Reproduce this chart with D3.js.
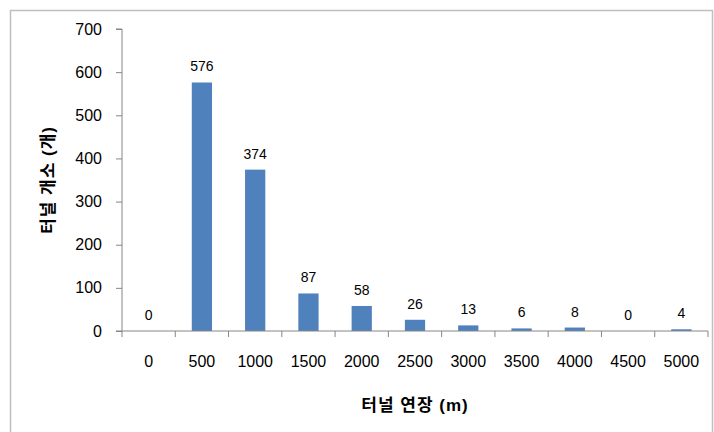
<!DOCTYPE html>
<html>
<head>
<meta charset="utf-8">
<script src="https://cdn.jsdelivr.net/npm/d3@7"></script>
<style>
  body { margin: 0; background: #fff; }
  text { font-family: "Liberation Sans", "Noto Sans CJK KR", sans-serif; fill: #000; }
</style>
</head>
<body>
<svg width="714" height="432"></svg>
<script>
const BAR_BLUE = "#4F81BD";
const AXIS_GRAY = "#868686";

// 터널 연장 구간 (m)
const lengths = ["0", "500", "1000", "1500", "2000", "2500", "3000", "3500", "4000", "4500", "5000"];
// 터널 개소
const counts = [0, 576, 374, 87, 58, 26, 13, 6, 8, 0, 4];
const yTicks = [0, 100, 200, 300, 400, 500, 600, 700];

const m = { top: 29, right: 6, bottom: 101, left: 122 };
const W = 714, H = 432;
const w = W - m.left - m.right;
const h = H - m.top - m.bottom;

const svg = d3.select("svg");

// chart frame
svg.append("rect")
    .attr("x", 10.5).attr("y", 10.5)
    .attr("width", 702).attr("height", 440)
    .attr("fill", "none")
    .attr("stroke", "#BFBFBF")
    .attr("stroke-width", 1.5);

const g = svg.append("g").attr("transform", `translate(${m.left},${m.top})`);

const x = d3.scaleBand().domain(lengths).range([0, w]).paddingInner(0.62).paddingOuter(0.31);
const xb = d3.scaleBand().domain(lengths).range([0, w]);
const y = d3.scaleLinear().domain([0, 700]).range([h, 0]);

// bars
g.selectAll("rect.bar")
    .data(counts)
    .enter().append("rect")
    .attr("class", "bar")
    .attr("x", (d, i) => x(lengths[i]))
    .attr("y", d => y(d))
    .attr("width", x.bandwidth())
    .attr("height", d => h - y(d))
    .attr("fill", BAR_BLUE);

// value labels
g.selectAll("text.val")
    .data(counts)
    .enter().append("text")
    .attr("class", "val")
    .attr("x", (d, i) => x(lengths[i]) + x.bandwidth() / 2)
    .attr("y", d => y(d) - 11)
    .attr("text-anchor", "middle")
    .attr("font-size", 14)
    .text(d => d);

// y axis
const yAxis = g.append("g")
    .call(d3.axisLeft(y).tickValues(yTicks).tickSize(6).tickPadding(14));
yAxis.selectAll("text").attr("font-size", 16).attr("fill", "#000");

// x axis (ticks on category boundaries)
const xAxis = g.append("g").attr("transform", `translate(0,${h})`);
xAxis.append("line")
    .attr("x1", 0).attr("x2", w)
    .attr("stroke", AXIS_GRAY);
xAxis.selectAll("line.tk")
    .data(lengths.concat(["end"]))
    .enter().append("line")
    .attr("class", "tk")
    .attr("x1", (d, i) => i < lengths.length ? xb(d) : w)
    .attr("x2", (d, i) => i < lengths.length ? xb(d) : w)
    .attr("y1", 0).attr("y2", 6)
    .attr("stroke", AXIS_GRAY);
xAxis.selectAll("text")
    .data(lengths)
    .enter().append("text")
    .attr("x", d => xb(d) + xb.bandwidth() / 2)
    .attr("y", 36)
    .attr("text-anchor", "middle")
    .attr("font-size", 16)
    .text(d => d);

yAxis.selectAll("line, path").attr("stroke", AXIS_GRAY);
yAxis.select(".domain").attr("d", `M-6,${h}H0V0H-6`);

// axis titles
svg.append("text")
    .attr("x", 415)
    .attr("y", 411)
    .attr("text-anchor", "middle")
    .attr("font-size", 17)
    .attr("font-weight", "bold")
    .attr("letter-spacing", 1)
    .text("터널 연장 (m)");

svg.append("text")
    .attr("transform", `translate(54,180) rotate(-90)`)
    .attr("text-anchor", "middle")
    .attr("font-size", 17)
    .attr("font-weight", "bold")
    .attr("letter-spacing", 1)
    .text("터널 개소 (개)");
</script>
</body>
</html>
